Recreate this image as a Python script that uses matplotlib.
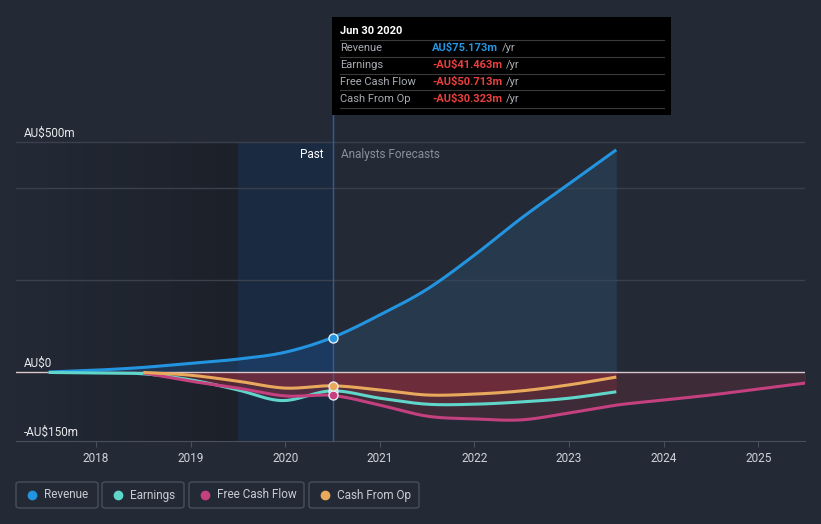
#!/usr/bin/env python3
import matplotlib
matplotlib.use("Agg")
import matplotlib.pyplot as plt
from matplotlib.patches import FancyBboxPatch, Rectangle
import numpy as np

# values in AU$ millions
rev_x = [2017.5, 2018.0, 2018.5, 2019.0, 2019.5, 2020.0, 2020.5,
         2021.0, 2021.5, 2022.0, 2022.5, 2023.0, 2023.5]
rev_y = [0, 4, 10, 19, 28, 43, 75, 124, 180, 254, 335, 409, 483]

earn_x = [2017.5, 2018.0, 2018.5, 2019.0, 2019.5, 2019.95, 2020.5,
          2021.0, 2021.5, 2022.0, 2022.5, 2023.0, 2023.5]
earn_y = [-1, -2, -4, -17, -39, -62, -41, -57, -70, -70, -65, -57, -43]

fcf_x = [2018.5, 2019.0, 2019.5, 2020.0, 2020.5, 2021.0, 2021.5, 2022.0,
         2022.5, 2023.0, 2023.5, 2024.0, 2024.5, 2025.0, 2025.5]
fcf_y = [-2, -20, -35, -52, -51, -72, -96, -102, -104, -89, -72, -61, -50, -37, -24]

cfo_x = [2018.5, 2019.0, 2019.5, 2020.0, 2020.5, 2021.0, 2021.5,
         2022.0, 2022.5, 2023.0, 2023.5]
cfo_y = [-1, -7, -20, -35, -30, -39, -50, -48, -41, -28, -11]

years = [2018, 2019, 2020, 2021, 2022, 2023, 2024, 2025]
now = 2020.5

tooltip_rows = [("Revenue", "AU$75.173m", "#2394df"),
                ("Earnings", "-AU$41.463m", "#e8403f"),
                ("Free Cash Flow", "-AU$50.713m", "#e8403f"),
                ("Cash From Op", "-AU$30.323m", "#e8403f")]

BG = "#232a36"
C_REV = "#2394df"
C_EARN = "#5fd6c9"
C_FCF = "#c4407f"
C_CFO = "#e8a95c"
FONT = ["Roboto", "DejaVu Sans"]
plt.rcParams["font.family"] = FONT


def smooth(xs, ys):
    # cubic hermite through the points
    xs = np.asarray(xs, float)
    ys = np.asarray(ys, float)
    out_x, out_y = [], []
    m = np.gradient(ys, xs)
    for i in range(len(xs) - 1):
        t = np.linspace(0, 1, 30, endpoint=False)
        h = xs[i + 1] - xs[i]
        h00 = 2 * t**3 - 3 * t**2 + 1
        h10 = t**3 - 2 * t**2 + t
        h01 = -2 * t**3 + 3 * t**2
        h11 = t**3 - t**2
        out_x.append(xs[i] + t * h)
        out_y.append(h00 * ys[i] + h10 * h * m[i] + h01 * ys[i + 1] + h11 * h * m[i + 1])
    out_x.append([xs[-1]])
    out_y.append([ys[-1]])
    return np.concatenate(out_x), np.concatenate(out_y)


W, H = 821, 524
fig = plt.figure(figsize=(W / 100, H / 100), dpi=100, facecolor=BG)
ax_top_px, ax_bot_px, ax_l_px, ax_r_px = 100, 441, 16, 805
ax = fig.add_axes([ax_l_px / W, 1 - ax_bot_px / H,
                   (ax_r_px - ax_l_px) / W, (ax_bot_px - ax_top_px) / H])
ax.set_facecolor(BG)

px_per_year = 94.6
x0 = 2018 - (96 - ax_l_px) / px_per_year
x1 = x0 + (ax_r_px - ax_l_px) / px_per_year
ymin = -150
ymax = (372 - ax_top_px) / 0.46

# past shading
grad = np.linspace(0, 1, 256).reshape(1, -1)
ax.imshow(grad, extent=[x0, 2019.5, ymin, 500], aspect="auto",
          cmap=matplotlib.colors.LinearSegmentedColormap.from_list("g", [BG, "#1c2029"]),
          zorder=0)
ax.add_patch(Rectangle((2019.5, ymin), now - 2019.5, 500 - ymin,
                       facecolor="#1a2a40", edgecolor="none", zorder=0.5))
ax.set_xlim(x0, x1)
ax.set_ylim(ymin, ymax)

# gridlines
for g in [200, 400, 500]:
    ax.axhline(g, color="#3a414c", lw=1, zorder=1)
ax.axhline(0, color="#d9c7c9", lw=1, zorder=3)

rx, ry = smooth(rev_x, rev_y)
ex, ey = smooth(earn_x, earn_y)
fx, fy = smooth(fcf_x, fcf_y)
cx, cy = smooth(cfo_x, cfo_y)

# fills
ax.fill_between(rx, 0, ry, where=rx >= now - 0.01, color="#2e4c68", alpha=0.45, lw=0, zorder=1)
ax.fill_between(rx, 0, ry, where=rx <= now + 0.01, color="#1f4f85", alpha=0.45, lw=0, zorder=1)
ax.fill_between(fx, 0, fy, color="#a03040", alpha=0.22, lw=0, zorder=1)
ax.fill_between(ex, 0, ey, color="#a83040", alpha=0.24, lw=0, zorder=1)
ax.fill_between(cx, 0, cy, color="#b83040", alpha=0.22, lw=0, zorder=1)

ax.plot(rx, ry, color=C_REV, lw=2.2, zorder=4, solid_capstyle="butt")
ax.plot(ex, ey, color=C_EARN, lw=2.2, zorder=4, solid_capstyle="butt")
ax.plot(fx, fy, color=C_FCF, lw=2.2, zorder=4, solid_capstyle="butt")
ax.plot(cx, cy, color=C_CFO, lw=2.2, zorder=4, solid_capstyle="butt")

for xs, ys, c in [(rev_x, rev_y, C_REV), (earn_x, earn_y, C_EARN),
                  (fcf_x, fcf_y, C_FCF), (cfo_x, cfo_y, C_CFO)]:
    i = xs.index(now)
    ax.plot(xs[i], ys[i], "o", ms=6.5, color=c, mec="#e8ecf0", mew=1.0, zorder=6)

# now line
ax.axvline(now, color="#2f5e9e", lw=1, zorder=2, ymax=1.2, clip_on=False)

ax.text(now - 0.09, 472, "Past", color="#ffffff", fontsize=8.5, ha="right", va="center")
ax.text(now + 0.09, 472, "Analysts Forecasts", color="#8a9099", fontsize=8.5,
        ha="left", va="center")

ax.text(x0 + 8 / px_per_year, 505, "AU\\$500m", color="#e8eaec", fontsize=8.5, va="bottom")
ax.text(x0 + 8 / px_per_year, 5, "AU\\$0", color="#e8eaec", fontsize=8.5, va="bottom")
ax.text(x0 + 8 / px_per_year, -145, "-AU\\$150m", color="#e8eaec", fontsize=8.5, va="bottom")

for s in ["top", "right", "left"]:
    ax.spines[s].set_visible(False)
ax.spines["bottom"].set_color("#4a505a")
ax.set_yticks([])
ax.set_xticks(years)
ax.set_xticklabels([str(y) for y in years])
ax.tick_params(axis="x", colors="#4a505a", labelcolor="#d0d4da", labelsize=8.5,
               length=4, direction="out", pad=4)

# tooltip
tl, tt, tr, tb = 332, 17, 671, 115
fig.patches.append(Rectangle((tl / W, 1 - tb / H), (tr - tl) / W, (tb - tt) / H,
                             transform=fig.transFigure, facecolor="#000000",
                             edgecolor="none", zorder=10))
fig.text(340 / W, 1 - 31 / H, "Jun 30 2020", color="#ffffff", fontsize=8,
         fontweight="bold", va="center", zorder=11)
for k, (name, val, col) in enumerate(tooltip_rows):
    yc = 48 + k * 17
    fig.add_artist(plt.Line2D([340 / W, 664 / W], [1 - (yc - 8.5) / H] * 2,
                              color="#3a3a3a", lw=0.8, zorder=11))
    fig.text(340 / W, 1 - yc / H, name, color="#a8acb2", fontsize=8, va="center", zorder=11)
    t = fig.text(432 / W, 1 - yc / H, val.replace("$", "\\$"), color=col, fontsize=8,
                 fontweight="bold", va="center", zorder=11)
    fig.canvas.draw()
    bb = t.get_window_extent()
    fig.text(bb.x1 / W + 4 / W, 1 - yc / H, "/yr", color="#a8acb2", fontsize=8,
             va="center", zorder=11)
fig.add_artist(plt.Line2D([340 / W, 664 / W], [1 - (48 + 4 * 17 - 8.5) / H] * 2,
                          color="#3a3a3a", lw=0.8, zorder=11))

# legend
legend_items = [("Revenue", C_REV, 16, 98), ("Earnings", C_EARN, 102, 184),
                ("Free Cash Flow", C_FCF, 189, 304), ("Cash From Op", C_CFO, 309, 419)]
for name, col, l, r in legend_items:
    fig.patches.append(FancyBboxPatch((l / W, 1 - 508 / H), (r - l) / W, 26 / H,
                                      boxstyle="round,pad=0,rounding_size=0.004",
                                      transform=fig.transFigure, facecolor="none",
                                      edgecolor="#4a505a", lw=1))
    fig.add_artist(plt.Line2D([(l + 16) / W], [1 - 495 / H], marker="o", ms=6,
                              color=col, lw=0))
    fig.text((l + 28) / W, 1 - 495 / H, name, color="#c8ccd2", fontsize=8.5, va="center")

fig.savefig("out.png", dpi=100, facecolor=BG)
